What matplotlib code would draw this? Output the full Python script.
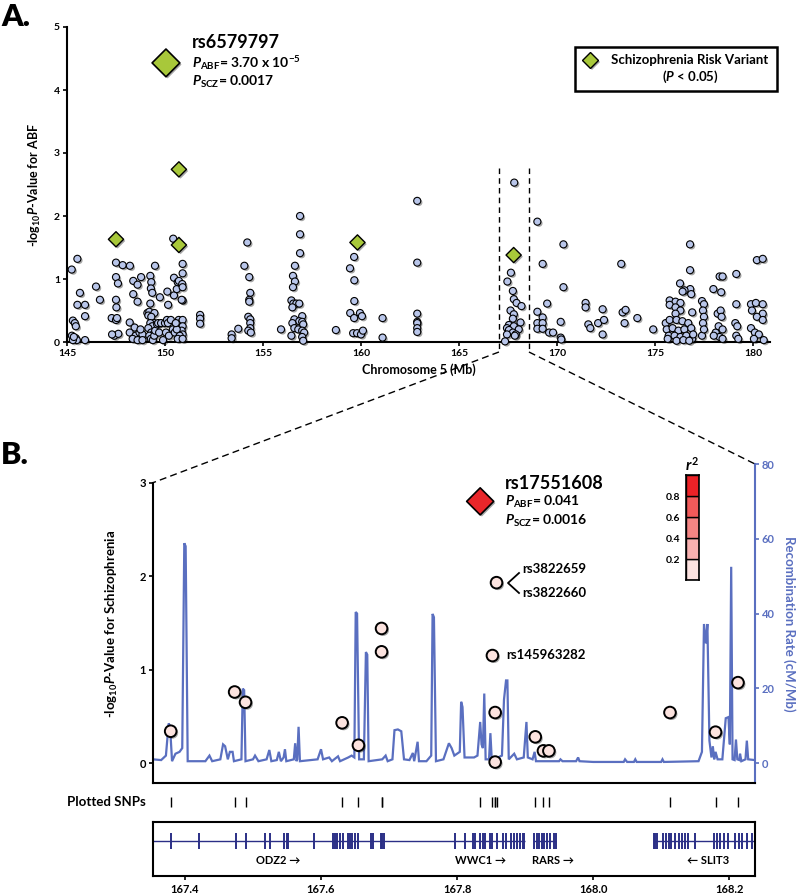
import numpy as np
import matplotlib
matplotlib.use("Agg")
import matplotlib.pyplot as plt
import matplotlib.patheffects as pe
from matplotlib.lines import Line2D
from matplotlib.patches import Rectangle
from matplotlib.transforms import blended_transform_factory

plt.rcParams['font.family'] = ['Lato', 'DejaVu Sans']
plt.rcParams['font.weight'] = 'bold'
plt.rcParams['mathtext.fontset'] = 'custom'
plt.rcParams['mathtext.rm'] = 'Lato:bold'
plt.rcParams['mathtext.it'] = 'Lato:italic:bold'
plt.rcParams['mathtext.bf'] = 'Lato:bold'

# ---------------- data: panel A (chromosome 5, Mb / -log10 P ABF) ----------------
snp_pos = [
    145.24, 145.53, 145.66, 145.53, 145.92, 145.92, 145.30, 145.40, 145.45, 145.25, 145.45, 145.50, 145.30, 145.92, 145.35,
    146.48, 146.68,
    147.50, 147.84, 148.21, 147.50, 147.60, 147.50, 147.52, 147.28, 147.50, 147.55, 147.42, 147.62, 147.30,
    148.38, 148.60, 148.78, 148.38, 148.60, 148.20, 148.45, 148.20, 148.50, 148.70, 148.85, 148.35, 148.60, 148.85, 148.75,
    149.25, 149.30, 149.28, 149.35, 149.49, 149.25, 149.10, 149.20, 149.46, 149.15, 149.30, 149.45, 149.25, 149.35, 149.15,
    149.30, 149.40, 149.20, 149.28, 149.38, 149.45, 149.50, 149.60, 149.74, 149.65, 149.70, 149.90, 149.80, 150.00, 150.12,
    150.16, 150.10, 150.05, 150.20, 150.15, 150.42, 150.46, 150.46, 150.30, 150.40, 150.50, 150.60, 150.65, 150.71, 150.90,
    150.90, 150.88, 150.90, 150.90, 150.85, 150.70, 150.80, 150.90, 150.90, 150.85, 150.90, 150.75, 150.65, 150.90, 150.60, 150.55,
    151.79, 151.79, 151.79,
    153.40, 153.40, 153.74,
    154.20, 154.05, 154.30, 154.35, 154.30, 154.30, 154.25, 154.35, 154.35, 154.35, 154.25, 154.38,
    155.92,
    156.89, 156.89, 156.89, 156.63, 156.53, 156.63, 156.53, 156.45, 156.55, 156.70, 156.85, 156.50, 157.00, 156.60, 156.85,
    157.00, 157.05, 156.50, 156.60, 156.80, 157.00, 157.10, 157.00, 156.45, 157.05,
    158.72,
    159.44, 159.65, 159.66, 159.66, 159.45, 159.95, 159.65, 160.05, 159.60, 159.80, 160.00, 160.10,
    161.10, 161.10,
    162.87, 162.87, 162.87, 162.87, 162.87, 162.87, 162.87,
    167.82, 167.65, 167.47, 167.75, 167.80, 167.94, 168.19, 167.63, 167.80, 167.75, 168.14, 167.55, 167.45, 167.80, 168.05,
    167.55, 167.75, 167.90, 167.45, 167.85, 167.35,
    169.00, 170.33, 169.27, 170.33, 169.50, 169.00, 169.27, 169.00, 169.27, 169.00, 169.27, 169.60, 169.80, 170.19, 170.19, 170.22,
    171.46, 171.46, 172.33, 171.60, 171.70, 172.10, 172.40, 172.33,
    173.28, 173.35, 173.50, 173.45, 174.10, 174.91,
    176.79, 176.79, 176.28, 176.80, 176.51, 176.41, 176.85, 175.75, 176.05, 176.30, 175.75, 176.05, 176.30, 176.90, 176.05,
    175.55, 175.75, 176.10, 176.40, 176.70, 175.60, 175.90, 176.20, 176.50, 176.85, 175.70, 176.00, 176.30, 176.60, 176.90,
    176.10, 176.45, 176.75, 175.65, 176.95,
    177.40, 177.50, 177.45, 177.50, 177.45, 177.40, 177.50,
    177.98, 178.38, 178.30, 178.45, 178.20, 178.35, 178.40, 178.10, 178.25, 178.45, 178.30, 178.45, 178.00,
    179.15, 179.15, 179.10, 179.20, 179.15, 179.25,
    180.20, 180.50, 179.90, 180.15, 180.50, 179.95, 180.50, 180.20, 180.50, 179.90, 180.10, 180.30, 180.05, 180.55,
]
snp_logp = [
    1.15, 1.32, 0.78, 0.59, 0.59, 0.41, 0.34, 0.30, 0.25, 0.10, 0.06, 0.03, 0.03, 0.03, 0.08,
    0.88, 0.67,
    1.26, 1.22, 1.21, 1.03, 0.93, 0.67, 0.55, 0.38, 0.35, 0.38, 0.10, 0.13, 0.12,
    0.97, 0.91, 1.03, 0.76, 0.64, 0.31, 0.23, 0.15, 0.10, 0.15, 0.12, 0.05, 0.03, 0.03, 0.20,
    1.05, 0.95, 0.85, 0.78, 1.21, 0.61, 0.46, 0.48, 0.46, 0.42, 0.40, 0.30, 0.30, 0.25, 0.22,
    0.15, 0.12, 0.10, 0.05, 0.03, 0.10, 0.18, 0.28, 0.71, 0.30, 0.15, 0.03, 0.30, 0.30, 0.80,
    0.59, 0.35, 0.15, 0.10, 0.30, 1.64, 1.02, 0.74, 0.35, 0.20, 0.15, 0.84, 0.95, 0.97, 1.24,
    1.09, 0.92, 0.87, 0.66, 0.67, 0.35, 0.30, 0.35, 0.25, 0.18, 0.12, 0.10, 0.05, 0.05, 0.20, 0.30,
    0.43, 0.37, 0.29,
    0.12, 0.06, 0.21,
    1.58, 1.21, 1.03, 0.78, 0.67, 0.64, 0.40, 0.36, 0.30, 0.22, 0.18, 0.15,
    0.20,
    2.00, 1.71, 1.41, 1.21, 1.05, 0.96, 0.87, 0.66, 0.61, 0.61, 0.61, 0.55, 0.41, 0.36, 0.33,
    0.32, 0.28, 0.30, 0.22, 0.20, 0.18, 0.15, 0.08, 0.10, 0.02,
    0.19,
    1.17, 1.35, 0.98, 0.65, 0.46, 0.46, 0.38, 0.41, 0.14, 0.14, 0.12, 0.18,
    0.38, 0.07,
    2.24, 1.26, 0.45, 0.32, 0.30, 0.22, 0.16,
    2.53, 1.10, 0.96, 0.81, 0.68, 0.62, 0.57, 0.50, 0.44, 0.37, 0.31, 0.27, 0.22, 0.25, 0.20,
    0.19, 0.15, 0.12, 0.12, 0.10, 0.01,
    1.91, 1.55, 1.24, 0.87, 0.61, 0.48, 0.39, 0.30, 0.30, 0.21, 0.21, 0.15, 0.15, 0.32, 0.07, 0.04,
    0.62, 0.55, 0.52, 0.28, 0.22, 0.30, 0.35, 0.12,
    1.24, 0.47, 0.51, 0.30, 0.38, 0.20,
    1.55, 1.14, 0.93, 0.84, 0.82, 0.80, 0.76, 0.66, 0.64, 0.62, 0.59, 0.55, 0.50, 0.47, 0.45,
    0.30, 0.35, 0.35, 0.33, 0.30, 0.20, 0.22, 0.18, 0.20, 0.22, 0.10, 0.10, 0.08, 0.10, 0.05,
    0.02, 0.03, 0.02, 0.05, 0.12,
    0.65, 0.60, 0.50, 0.40, 0.30, 0.10, 0.20,
    0.84, 0.79, 1.04, 1.04, 0.45, 0.50, 0.40, 0.15, 0.25, 0.20, 0.08, 0.05, 0.10,
    1.08, 0.60, 0.30, 0.25, 0.10, 0.05,
    1.30, 1.32, 0.60, 0.62, 0.60, 0.50, 0.45, 0.40, 0.35, 0.22, 0.15, 0.12, 0.05, 0.03,
]
risk_pos = [147.50, 150.71, 150.71, 159.82, 167.79]
risk_logp = [1.63, 2.74, 1.54, 1.58, 1.38]
top_snp = "rs6579797"
top_snp_pos, top_snp_logp = 150.05, 4.43
zoom_region = (167.04, 168.57)

# ---------------- data: panel B (region 167.35-168.24 Mb) ----------------
scz_pos = [167.379, 167.473, 167.489, 167.631, 167.655, 167.689, 167.689, 167.858, 167.852,
           167.856, 167.856, 167.915, 167.927, 167.935, 168.113, 168.180, 168.213]
scz_logp = [0.34, 0.76, 0.65, 0.43, 0.19, 1.44, 1.19, 1.93, 1.15,
            0.54, 0.01, 0.28, 0.13, 0.13, 0.54, 0.33, 0.86]
lead_snp = "rs17551608"
lead_pos, lead_logp = 167.834, 2.80

rec_pos = [167.353, 167.365, 167.372, 167.376, 167.378, 167.381, 167.386, 167.392, 167.396, 167.399,
           167.401, 167.404, 167.430, 167.436, 167.440, 167.452, 167.456, 167.459, 167.463, 167.466,
           167.470, 167.472, 167.483, 167.485, 167.487, 167.489, 167.500, 167.503, 167.508, 167.520,
           167.524, 167.527, 167.535, 167.538, 167.541, 167.545, 167.547, 167.549, 167.560, 167.562,
           167.564, 167.565, 167.567, 167.569, 167.595, 167.600, 167.603, 167.612, 167.616, 167.625,
           167.628, 167.640, 167.645, 167.649, 167.651, 167.653, 167.656, 167.663, 167.666, 167.668,
           167.670, 167.690, 167.695, 167.698, 167.705, 167.708, 167.713, 167.718, 167.722, 167.730,
           167.735, 167.737, 167.742, 167.744, 167.755, 167.762, 167.764, 167.766, 167.769, 167.780,
           167.788, 167.792, 167.796, 167.804, 167.806, 167.808, 167.811, 167.825, 167.830, 167.834,
           167.836, 167.838, 167.840, 167.842, 167.847, 167.849, 167.851, 167.860, 167.866, 167.869,
           167.872, 167.874, 167.876, 167.884, 167.888, 167.898, 167.902, 167.904, 167.911, 167.914,
           167.916, 167.950, 167.952, 167.955, 167.975, 167.978, 167.980, 168.000, 168.045, 168.047,
           168.050, 168.060, 168.062, 168.064, 168.100, 168.102, 168.104, 168.155, 168.160, 168.163,
           168.166, 168.168, 168.171, 168.174, 168.176, 168.178, 168.180, 168.183, 168.190, 168.195,
           168.199, 168.201, 168.203, 168.205, 168.208, 168.210, 168.212, 168.215, 168.216, 168.218,
           168.224, 168.226, 168.228, 168.238]
rec_rate = [1.0, 0.8, 2.0, 10.6, 10.0, 0.5, 2.5, 3.0, 4.0, 58.8,
            58.0, 0.5, 0.5, 2.0, 0.5, 1.0, 5.0, 4.5, 1.0, 3.0,
            3.0, 0.5, 1.0, 19.9, 19.5, 0.5, 1.0, 2.0, 0.5, 1.0,
            3.5, 0.5, 0.8, 3.0, 0.5, 1.5, 3.7, 0.5, 1.0, 5.3,
            0.5, 1.0, 9.7, 0.5, 1.0, 3.7, 1.0, 1.5, 0.5, 1.8,
            0.5, 1.5, 2.0, 1.5, 40.4, 40.0, 1.0, 1.0, 29.7, 29.0,
            0.5, 1.0, 2.0, 0.5, 1.0, 8.8, 9.0, 8.5, 1.0, 0.8,
            2.7, 0.5, 5.7, 0.5, 0.5, 2.0, 39.9, 39.0, 0.5, 1.0,
            5.3, 4.0, 2.0, 3.0, 16.4, 15.0, 1.5, 1.5, 2.0, 11.0,
            5.0, 4.0, 18.6, 1.0, 1.0, 8.0, 1.0, 1.5, 2.0, 17.0,
            22.1, 22.1, 1.0, 2.5, 1.0, 1.5, 11.0, 1.5, 1.0, 3.0,
            0.5, 0.5, 1.0, 0.5, 0.5, 1.5, 0.5, 0.3, 0.3, 1.0,
            0.3, 0.3, 1.0, 0.3, 0.3, 1.0, 0.3, 0.5, 3.0, 37.2,
            32.0, 37.2, 6.0, 1.5, 4.5, 1.0, 3.0, 1.0, 1.0, 12.0,
            12.3, 5.0, 52.5, 1.0, 0.8, 6.3, 1.0, 0.8, 2.5, 0.5,
            1.0, 6.0, 1.0, 0.8]

r2_bounds = [0.0, 0.2, 0.4, 0.6, 0.8, 1.0]
r2_colors = ['#fde3e1', '#f8b1b0', '#f48584', '#f05a5a', '#ec2227']

gene_names = ['ODZ2', 'WWC1', 'RARS', 'SLIT3']
gene_strand = ['+', '+', '+', '-']
gene_start = [167.353, 167.797, 167.913, 168.089]
gene_end = [167.797, 167.900, 167.946, 168.238]
gene_label_pos = [167.537, 167.834, 167.941, 168.169]
exon_pos = [167.380, 167.421, 167.475, 167.489, 167.518, 167.525, 167.545, 167.550, 167.552, 167.590,
            167.617, 167.621, 167.624, 167.628, 167.632, 167.640, 167.643, 167.645, 167.650, 167.655,
            167.673, 167.677, 167.688, 167.690, 167.692,
            167.797, 167.812, 167.824, 167.827, 167.834, 167.838, 167.841, 167.849, 167.851, 167.858,
            167.868, 167.872, 167.880, 167.884, 167.888, 167.893, 167.897, 167.899,
            167.913, 167.917, 167.921, 167.925, 167.928, 167.932, 167.937, 167.942, 167.946,
            168.089, 168.091, 168.094, 168.103, 168.107, 168.112, 168.115, 168.121, 168.126, 168.131,
            168.135, 168.139, 168.150, 168.177, 168.182, 168.186, 168.192, 168.199, 168.209, 168.214,
            168.219, 168.226, 168.233]

# ---------------- layout helpers ----------------
W, H = 800, 896
fig = plt.figure(figsize=(W / 100, H / 100), dpi=100)


def frect(x0, y0, x1, y1):
    return [x0 / W, 1 - y1 / H, (x1 - x0) / W, (y1 - y0) / H]


def fx(px):
    return px / W


def fy(py):
    return 1 - py / H


shadow = [pe.SimplePatchShadow(offset=(1.2, -1.2), shadow_rgbFace='k', alpha=0.35), pe.Normal()]
green = '#a8c83a'
circ_blue = '#b9c6ea'
rec_blue = '#5a6fc0'
navy = '#2b2f86'

# ---------------- panel A ----------------
ax1 = fig.add_axes(frect(67, 27, 770, 342))
ax1.scatter(snp_pos, snp_logp, s=26, facecolor=circ_blue, edgecolor='k', linewidth=0.8,
            zorder=3, clip_on=False, path_effects=shadow)
ax1.scatter(risk_pos, risk_logp, s=60, marker='D', facecolor=green, edgecolor='k', linewidth=1.0,
            zorder=4, clip_on=False, path_effects=shadow)
ax1.scatter([top_snp_pos], [top_snp_logp], s=200, marker='D', facecolor=green, edgecolor='k',
            linewidth=1.2, zorder=4, path_effects=shadow)
ax1.set_xlim(145, 180.87)
ax1.set_ylim(0, 5)
ax1.set_xticks(np.arange(145, 181, 5))
ax1.set_yticks(np.arange(0, 6, 1))
for s in ['top', 'right']:
    ax1.spines[s].set_visible(False)
for s in ['left', 'bottom']:
    ax1.spines[s].set_linewidth(1.5)
ax1.tick_params(direction='out', length=3, width=1.2, labelsize=7.5, pad=2)
ax1.set_xlabel('Chromosome 5 (Mb)', fontsize=9, fontweight='bold', labelpad=4)
ax1.set_ylabel('-log$_{10}$$P$-Value for ABF', fontsize=9, fontweight='bold', labelpad=8)

fig.text(fx(192), fy(43), top_snp, fontsize=13, fontweight='bold', va='center', ha='left')
fig.text(fx(192), fy(63), r'$P_{\mathrm{ABF}}$= 3.70 x 10$^{-5}$', fontsize=10, va='center', ha='left')
fig.text(fx(192), fy(82), r'$P_{\mathrm{SCZ}}$= 0.0017', fontsize=10, va='center', ha='left')

# legend box
fig.add_artist(Rectangle((fx(575), fy(91)), fx(777) - fx(575), fy(47) - fy(91),
                         transform=fig.transFigure, facecolor='white', edgecolor='k', linewidth=1.8))
leg_mark = Line2D([fx(590)], [fy(60)], marker='D', markersize=8, markerfacecolor=green,
                  markeredgecolor='k', markeredgewidth=1.0, transform=fig.transFigure, path_effects=shadow)
fig.add_artist(leg_mark)
fig.text(fx(690), fy(60), 'Schizophrenia Risk Variant', fontsize=9.5, ha='center', va='center')
fig.text(fx(690), fy(77), '($P$ < 0.05)', fontsize=9.5, ha='center', va='center')

fig.text(fx(1), fy(17), 'A.', fontsize=22, fontweight='heavy', ha='left', va='center')
fig.text(fx(1), fy(455), 'B.', fontsize=22, fontweight='heavy', ha='left', va='center')

# ---------------- panel B ----------------
ax2 = fig.add_axes(frect(153, 464, 755, 783))
ax2r = ax2.twinx()
ax2.set_zorder(ax2r.get_zorder() + 1)
ax2.patch.set_visible(False)

ax2r.plot(rec_pos, rec_rate, color=rec_blue, linewidth=1.6, solid_joinstyle='miter')
ax2r.set_ylim(-5.33, 80)
ax2r.set_yticks(np.arange(0, 81, 20))
ax2r.tick_params(axis='y', colors=rec_blue, direction='out', length=3, width=1.2, labelsize=8, pad=2)
ax2r.spines['right'].set_color(rec_blue)
ax2r.spines['right'].set_linewidth(1.5)
for s in ['top', 'left', 'bottom']:
    ax2r.spines[s].set_visible(False)
ax2r.set_ylabel('Recombination Rate (cM/Mb)', color=rec_blue, fontsize=9.5, fontweight='bold',
                rotation=270, labelpad=15)

ax2.scatter(scz_pos, scz_logp, s=70, facecolor='#fce3df', edgecolor='k', linewidth=1.4, zorder=3,
            path_effects=shadow)
ax2.scatter([lead_pos], [lead_logp], s=190, marker='D', facecolor='#e8262a', edgecolor='k',
            linewidth=1.2, zorder=4, path_effects=shadow)
ax2.set_xlim(167.353, 168.238)
ax2.set_ylim(-0.214, 3.2)
ax2r.set_xlim(167.353, 168.238)
ax2.set_yticks([0, 1, 2, 3])
ax2.set_xticks([])
ax2.spines['top'].set_visible(False)
ax2.spines['right'].set_visible(False)
ax2.spines['left'].set_bounds(-0.214, 3)
ax2.spines['left'].set_linewidth(1.5)
ax2.spines['bottom'].set_linewidth(1.5)
ax2.tick_params(axis='y', direction='out', length=3, width=1.2, labelsize=8, pad=2)
ax2.set_ylabel('-log$_{10}$$P$-Value for Schizophrenia', fontsize=9.5, fontweight='bold', labelpad=14)

fig.text(fx(505), fy(483), lead_snp, fontsize=13, fontweight='bold', ha='left', va='center')
fig.text(fx(505), fy(502), r'$P_{\mathrm{ABF}}$= 0.041', fontsize=10, ha='left', va='center')
fig.text(fx(505), fy(521), r'$P_{\mathrm{SCZ}}$= 0.0016', fontsize=10, ha='left', va='center')
fig.text(fx(522), fy(569), 'rs3822659', fontsize=9.5, ha='left', va='center')
fig.text(fx(522), fy(593), 'rs3822660', fontsize=9.5, ha='left', va='center')
fig.add_artist(Line2D([fx(519), fx(508), fx(519)], [fy(573), fy(583), fy(593)],
                      color='k', linewidth=1.3, transform=fig.transFigure))
fig.text(fx(506), fy(655), 'rs145963282', fontsize=9.5, ha='left', va='center')

# r^2 colour key
axc = fig.add_axes(frect(686, 475, 699, 580))
for lo, hi, c in zip(r2_bounds[:-1], r2_bounds[1:], r2_colors):
    axc.add_patch(Rectangle((0, lo), 1, hi - lo, facecolor=c, edgecolor='k', linewidth=1.0))
axc.set_xlim(0, 1)
axc.set_ylim(0, 1)
axc.set_xticks([])
axc.set_yticks([0.2, 0.4, 0.6, 0.8])
axc.tick_params(axis='y', length=0, labelsize=7.5, pad=4)
for s in axc.spines.values():
    s.set_linewidth(1.2)
fig.text(fx(692), fy(465), '$r^2$', fontsize=11, ha='center', va='center')

# plotted SNPs row
ax4 = fig.add_axes(frect(153, 790, 755, 815))
ax4.vlines(scz_pos + [lead_pos], 0.32, 0.72, color='k', linewidth=1.0)
ax4.set_xlim(167.353, 168.238)
ax4.set_ylim(0, 1)
ax4.axis('off')
ax4.text(-0.012, 0.52, 'Plotted SNPs', transform=ax4.transAxes, fontsize=9.5, ha='right', va='center')

# gene track
ax3 = fig.add_axes(frect(153, 822, 755, 876))
for g0, g1 in zip(gene_start, gene_end):
    ax3.hlines(0.65, g0, g1, color=navy, linewidth=1.0)
ax3.vlines(exon_pos, 0.5, 0.8, color=navy, linewidth=1.4)
for name, strand, gx in zip(gene_names, gene_strand, gene_label_pos):
    lab = name + ' →' if strand == '+' else '← ' + name
    ax3.text(gx, 0.28, lab, fontsize=8, ha='center', va='center')
ax3.set_xlim(167.353, 168.238)
ax3.set_ylim(0, 1)
ax3.set_yticks([])
ax3.set_xticks([167.4, 167.6, 167.8, 168.0, 168.2])
ax3.set_xticklabels(['%.1f' % v for v in [167.4, 167.6, 167.8, 168.0, 168.2]])
ax3.tick_params(axis='x', direction='out', length=3, width=1.2, labelsize=8, pad=3)
for s in ax3.spines.values():
    s.set_linewidth(1.5)

# dashed zoom connectors
inv = fig.transFigure.inverted()
bt = blended_transform_factory(ax1.transData, fig.transFigure)
y_top = fy(168)
y_bot = fy(352)
corner_l = inv.transform(ax2.transData.transform((167.353, 3)))
corner_r = inv.transform(ax2r.transData.transform((168.238, 80)))
for zx, corner in zip(zoom_region, [corner_l, corner_r]):
    fig.add_artist(Line2D([zx, zx], [y_top, y_bot], transform=bt, color='k',
                          linewidth=1.0, linestyle=(0, (4, 3))))
    xfig = inv.transform(ax1.transData.transform((zx, 0)))[0]
    fig.add_artist(Line2D([xfig, corner[0]], [y_bot, corner[1]], transform=fig.transFigure,
                          color='k', linewidth=1.0, linestyle=(0, (5, 3))))

fig.savefig('out.png', dpi=100)
